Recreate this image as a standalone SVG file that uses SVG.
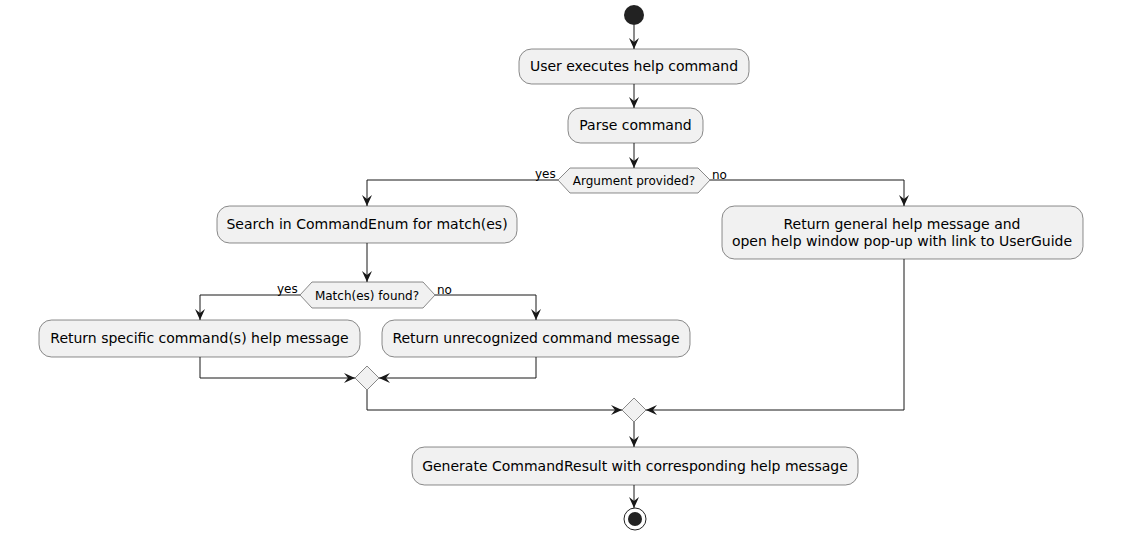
<svg xmlns="http://www.w3.org/2000/svg" width="1130" height="542" viewBox="0 0 1130 542">
<style>
.box{fill:#F1F1F1;stroke:#181818;stroke-width:0.5}
.t{font-family:"DejaVu Sans",sans-serif;font-size:14px;fill:#000;text-anchor:middle}
.s{font-family:"DejaVu Sans",sans-serif;font-size:12px;fill:#000}
.c{fill:none;stroke:#181818;stroke-width:1}
</style>
<defs>
<marker id="ah" viewBox="0 0 11 10" refX="11" refY="5" markerWidth="11" markerHeight="10" markerUnits="userSpaceOnUse" orient="auto">
<path d="M0,0 L11,5 L0,10 L4,5 Z" fill="#181818"/>
</marker>
</defs>
<rect width="1130" height="542" fill="#FFFFFF"/>
<g id="connectors">
<path class="c" d="M634,25 V49" marker-end="url(#ah)"/>
<path class="c" d="M634,84 V108" marker-end="url(#ah)"/>
<path class="c" d="M634,143 V168" marker-end="url(#ah)"/>
<path class="c" d="M558,180 H367 V206" marker-end="url(#ah)"/>
<path class="c" d="M710,180 H904 V206" marker-end="url(#ah)"/>
<path class="c" d="M367,243 V282" marker-end="url(#ah)"/>
<path class="c" d="M300,295 H200 V320" marker-end="url(#ah)"/>
<path class="c" d="M435,295 H536 V320" marker-end="url(#ah)"/>
<path class="c" d="M200,357 V378 H355" marker-end="url(#ah)"/>
<path class="c" d="M536,357 V378 H379" marker-end="url(#ah)"/>
<path class="c" d="M367,390 V410 H622" marker-end="url(#ah)"/>
<path class="c" d="M904,259 V410 H646" marker-end="url(#ah)"/>
<path class="c" d="M634,422 V447" marker-end="url(#ah)"/>
<path class="c" d="M634,485 V508" marker-end="url(#ah)"/>
<text class="s" x="535" y="178">yes</text>
<text class="s" x="712" y="179">no</text>
<text class="s" x="277" y="293">yes</text>
<text class="s" x="437" y="294">no</text>
</g>
<g id="start"><circle cx="634" cy="15" r="10" fill="#222222"/></g>
<g id="n1"><rect class="box" x="519" y="49" width="230" height="35" rx="12.5"/><text class="t" x="634" y="71">User executes help command</text></g>
<g id="n2"><rect class="box" x="568" y="108" width="135" height="35" rx="12.5"/><text class="t" x="635.5" y="130">Parse command</text></g>
<g id="d1"><polygon class="box" points="558,180 570,168 698,168 710,180 698,193 570,193"/><text class="s" x="634" y="185" text-anchor="middle">Argument provided?</text></g>
<g id="n3"><rect class="box" x="217" y="206" width="300" height="37" rx="12.5"/><text class="t" x="367" y="229">Search in CommandEnum for match(es)</text></g>
<g id="n4"><rect class="box" x="722" y="206" width="361" height="53" rx="12.5"/><text class="t" x="902" y="229">Return general help message and</text><text class="t" x="902" y="246"> open help window pop-up with link to UserGuide</text></g>
<g id="d2"><polygon class="box" points="300,295 312,282 423,282 435,295 423,308 312,308"/><text class="s" x="367" y="300" text-anchor="middle">Match(es) found?</text></g>
<g id="n5"><rect class="box" x="39" y="320" width="321" height="37" rx="12.5"/><text class="t" x="199.5" y="343">Return specific command(s) help message</text></g>
<g id="n6"><rect class="box" x="382" y="320" width="308" height="37" rx="12.5"/><text class="t" x="536" y="343">Return unrecognized command message</text></g>
<g id="m1"><polygon class="box" points="367,366 379,378 367,390 355,378"/></g>
<g id="m2"><polygon class="box" points="634,398 646,410 634,422 622,410"/></g>
<g id="n7"><rect class="box" x="412" y="447" width="446" height="38" rx="12.5"/><text class="t" x="635" y="471">Generate CommandResult with corresponding help message</text></g>
<g id="end"><circle cx="635" cy="519" r="11" fill="#FFFFFF" stroke="#222222" stroke-width="1"/><circle cx="635" cy="519" r="7" fill="#222222"/></g>
</svg>
